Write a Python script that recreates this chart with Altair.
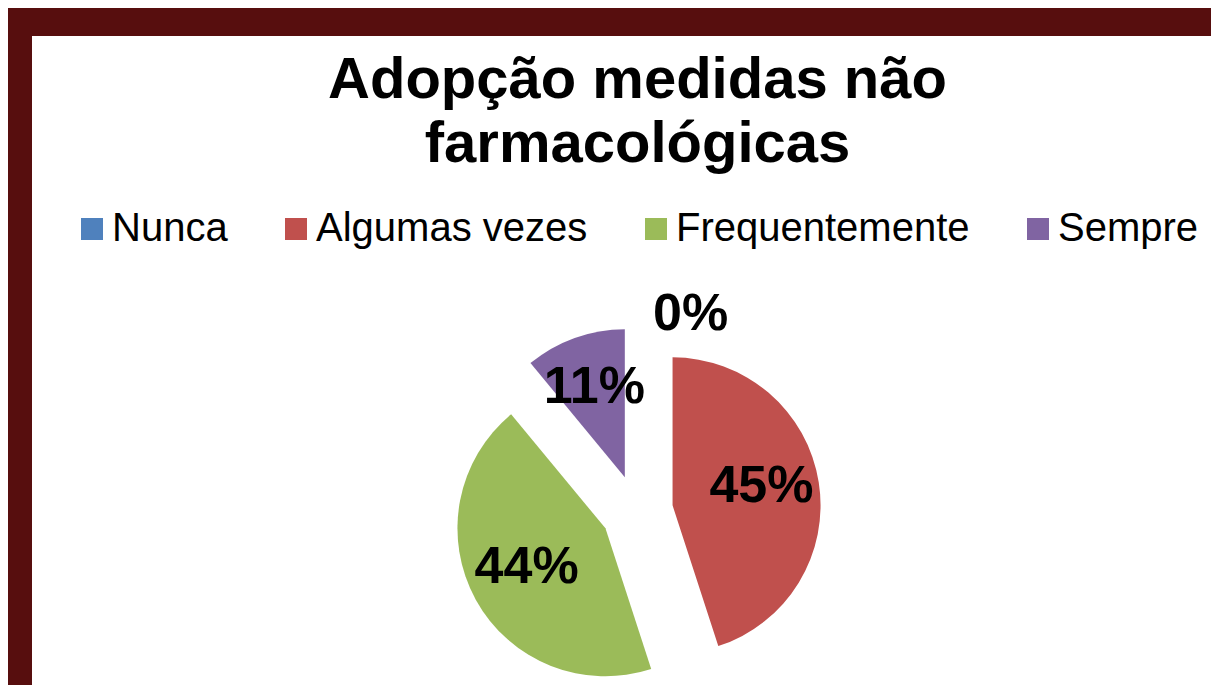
import altair as alt
import pandas as pd

# ---- data -------------------------------------------------------------
categories = ["Nunca", "Algumas vezes", "Frequentemente", "Sempre"]
percent = [0, 45, 44, 11]
colors = ["#4F81BD", "#C0504D", "#9BBB59", "#8064A2"]
title_lines = ["Adopção medidas não", "farmacológicas"]

df = pd.DataFrame({
    "categoria": categories,
    "pct": percent,
    "ordem": list(range(len(categories))),
})

# ---- layout constants (pixels, inside the white view) -----------------
CX, CY = 605, 475      # pie centre
R = 148                # pie radius
EXPLODE = 36           # slice explosion distance
LABEL_R = 90           # distance of inside labels from slice apex
OUT_R = 161            # distance of labels for empty slices

base = (
    alt.Chart(df)
    .transform_window(cum="sum(pct)", sort=[alt.SortField("ordem")], frame=[None, 0])
    .transform_joinaggregate(total="sum(pct)")
    .transform_calculate(a1="2*PI*datum.cum/datum.total")
    .transform_calculate(a0="2*PI*(datum.cum-datum.pct)/datum.total")
    .transform_calculate(mid="(datum.a0+datum.a1)/2")
    .transform_calculate(ex=f"{CX}+{EXPLODE}*sin(datum.mid)")
    .transform_calculate(ey=f"{CY}-{EXPLODE}*cos(datum.mid)")
    .transform_calculate(label="datum.pct + '%'")
)

arcs = base.mark_arc(outerRadius=R).encode(
    theta=alt.Theta("a0:Q", scale=None),
    theta2="a1:Q",
    x=alt.X("ex:Q", scale=None, axis=None),
    y=alt.Y("ey:Q", scale=None, axis=None),
    color=alt.Color(
        "categoria:N",
        scale=alt.Scale(domain=categories, range=colors),
        legend=alt.Legend(
            title=None,
            orient="none",
            legendX=40,
            legendY=173,
            direction="horizontal",
            columns=4,
            symbolType="square",
            symbolSize=484,
            symbolStrokeWidth=0,
            labelFont="Liberation Sans",
            labelFontSize=40,
            labelColor="black",
            labelLimit=800,
            labelOffset=0,
            columnPadding=48,
            padding=0,
        ),
    ),
)

inner_labels = (
    base.transform_filter("datum.pct > 0")
    .transform_calculate(lx=f"datum.ex+{LABEL_R}*sin(datum.mid)")
    .transform_calculate(ly=f"datum.ey-{LABEL_R}*cos(datum.mid)")
    .mark_text(font="Liberation Sans", fontWeight="bold", fontSize=52,
               color="black", align="center", baseline="middle", dy=-5)
    .encode(
        x=alt.X("lx:Q", scale=None, axis=None),
        y=alt.Y("ly:Q", scale=None, axis=None),
        text="label:N",
    )
)

outer_labels = (
    base.transform_filter("datum.pct == 0")
    .transform_calculate(lx=f"datum.ex+{OUT_R}*sin(datum.mid)")
    .transform_calculate(ly=f"datum.ey-{OUT_R}*cos(datum.mid)")
    .mark_text(font="Liberation Sans", fontWeight="bold", fontSize=52,
               color="black", align="left", baseline="middle", dx=16)
    .encode(
        x=alt.X("lx:Q", scale=None, axis=None),
        y=alt.Y("ly:Q", scale=None, axis=None),
        text="label:N",
    )
)

chart = (
    alt.layer(arcs, inner_labels, outer_labels)
    .properties(
        width=1179,
        height=649,
        background="#570E0E",
        padding={"left": 24, "top": 28, "right": 0, "bottom": 0},
        autosize=alt.AutoSizeParams(type="none"),
        title=alt.TitleParams(
            title_lines,
            font="Liberation Sans",
            fontSize=58,
            fontWeight="bold",
            color="black",
            anchor="middle",
            frame="group",
            baseline="alphabetic",
            lineHeight=64,
            offset=0,
            dx=16,
            dy=184,
        ),
    )
    .configure_view(fill="white", strokeWidth=0)
)

chart.save("out.html", embed_options={"renderer": "svg", "actions": False})
